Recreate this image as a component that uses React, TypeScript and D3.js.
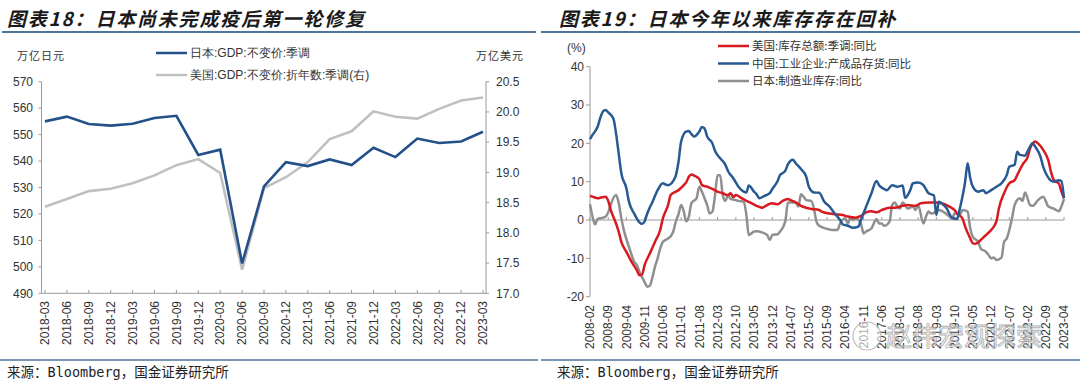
import React from "react";
import * as d3 from "d3";

// ---- 图表18：日本 / 美国 GDP（季度）----
const gdpQuarters = [
  "2018-03", "2018-06", "2018-09", "2018-12", "2019-03", "2019-06", "2019-09",
  "2019-12", "2020-03", "2020-06", "2020-09", "2020-12", "2021-03", "2021-06",
  "2021-09", "2021-12", "2022-03", "2022-06", "2022-09", "2022-12", "2023-03",
];
const japanGdp = [
  555.0, 556.8, 554.0, 553.4, 554.1, 556.3, 557.1, 542.3, 544.3, 501.3, 530.4,
  539.6, 538.1, 540.6, 538.5, 545.0, 541.5, 548.5, 546.8, 547.4, 551.1,
];
const usGdp = [
  18.43, 18.56, 18.69, 18.73, 18.82, 18.95, 19.12, 19.22, 18.99, 17.39, 18.74,
  18.92, 19.17, 19.55, 19.68, 20.01, 19.92, 19.89, 20.05, 20.19, 20.24,
];
const jpyTicks = [490, 500, 510, 520, 530, 540, 550, 560, 570];
const usdTicks = [17.0, 17.5, 18.0, 18.5, 19.0, 19.5, 20.0, 20.5];

// ---- 图表19：库存同比（月度，%）----
const usInventory: [string, number][] = [
  ["2008-02", 6.3], ["2008-03", 6.1], ["2008-05", 5.7], ["2008-06", 5.8], ["2008-08", 6.1],
  ["2008-09", 5.0], ["2008-10", 2.6], ["2008-12", -0.9], ["2009-01", -3.0], ["2009-02", -5.7],
  ["2009-04", -8.3], ["2009-06", -10.9], ["2009-08", -13.1], ["2009-09", -14.4], ["2009-10", -14.2],
  ["2009-11", -11.7], ["2010-01", -8.7], ["2010-03", -5.7], ["2010-05", -2.6], ["2010-06", 0.4],
  ["2010-08", 3.9], ["2010-09", 6.5], ["2010-11", 7.4], ["2010-12", 7.8], ["2011-02", 9.1],
  ["2011-03", 9.8], ["2011-04", 11.3], ["2011-05", 11.9], ["2011-06", 11.6], ["2011-08", 10.7],
  ["2011-09", 9.1], ["2011-11", 8.7], ["2012-01", 8.1], ["2012-03", 7.4], ["2012-05", 7.0],
  ["2012-07", 6.5], ["2012-08", 7.0], ["2012-09", 6.0], ["2012-10", 6.5], ["2012-12", 5.8],
  ["2013-02", 5.0], ["2013-04", 4.4], ["2013-06", 3.7], ["2013-08", 3.2], ["2013-10", 3.9],
  ["2013-12", 4.4], ["2014-02", 4.1], ["2014-04", 5.0], ["2014-06", 5.5], ["2014-07", 5.2],
  ["2014-09", 4.6], ["2014-11", 3.7], ["2015-01", 3.2], ["2015-03", 2.9], ["2015-06", 2.6],
  ["2015-07", 2.2], ["2015-10", 1.7], ["2015-12", 1.5], ["2016-03", 1.3], ["2016-05", 0.9],
  ["2016-08", 0.6], ["2016-10", 1.1], ["2016-12", 2.0], ["2017-02", 2.3], ["2017-04", 2.0],
  ["2017-06", 2.6], ["2017-09", 3.2], ["2017-11", 3.2], ["2018-02", 3.7], ["2018-04", 3.9],
  ["2018-07", 3.7], ["2018-09", 4.4], ["2018-12", 4.6], ["2019-03", 4.6], ["2019-05", 4.4],
  ["2019-08", 3.5], ["2019-10", 2.6], ["2019-11", 1.7], ["2020-01", 0.4], ["2020-02", -1.7],
  ["2020-04", -4.8], ["2020-05", -6.1], ["2020-06", -6.2], ["2020-08", -5.2], ["2020-10", -3.9],
  ["2020-12", -2.6], ["2021-02", -0.3], ["2021-03", 3.0], ["2021-05", 7.0], ["2021-07", 9.6],
  ["2021-09", 10.4], ["2021-10", 11.7], ["2021-12", 14.4], ["2022-02", 16.5], ["2022-03", 18.7],
  ["2022-05", 20.5], ["2022-06", 20.0], ["2022-08", 18.3], ["2022-10", 15.5], ["2022-11", 12.5],
  ["2022-12", 10.5], ["2023-02", 9.5], ["2023-03", 7.5], ["2023-04", 5.7],
];
const cnInventory: [string, number][] = [
  ["2008-02", 21.1], ["2008-03", 22.2], ["2008-05", 24.4], ["2008-06", 26.7], ["2008-07", 28.3],
  ["2008-08", 28.7], ["2008-09", 28.1], ["2008-11", 26.4], ["2008-12", 22.6], ["2009-01", 17.4],
  ["2009-02", 12.2], ["2009-04", 8.3], ["2009-05", 4.8], ["2009-07", 1.7], ["2009-09", -0.6],
  ["2009-10", -1.0], ["2009-11", -0.3], ["2009-12", 1.7], ["2010-02", 4.8], ["2010-04", 7.8],
  ["2010-06", 9.6], ["2010-07", 9.3], ["2010-08", 9.1], ["2010-10", 10.2], ["2010-11", 11.7],
  ["2010-12", 15.2], ["2011-01", 20.5], ["2011-03", 23.1], ["2011-04", 23.2], ["2011-05", 22.4],
  ["2011-06", 21.8], ["2011-08", 23.1], ["2011-09", 24.3], ["2011-10", 23.9], ["2011-11", 21.8],
  ["2012-01", 20.0], ["2012-02", 18.0], ["2012-04", 16.1], ["2012-06", 14.4], ["2012-07", 12.8],
  ["2012-09", 10.9], ["2012-11", 8.7], ["2013-01", 7.4], ["2013-02", 7.2], ["2013-03", 9.0],
  ["2013-05", 7.4], ["2013-06", 6.7], ["2013-07", 5.7], ["2013-09", 6.3], ["2013-11", 7.0],
  ["2013-12", 8.1], ["2014-02", 10.2], ["2014-03", 11.7], ["2014-05", 12.8], ["2014-06", 14.5],
  ["2014-08", 15.7], ["2014-09", 14.8], ["2014-11", 13.3], ["2015-01", 11.3], ["2015-02", 8.7],
  ["2015-04", 7.2], ["2015-06", 7.1], ["2015-08", 4.8], ["2015-10", 3.5], ["2015-12", 1.7],
  ["2016-02", 0.0], ["2016-03", -1.1], ["2016-05", -1.5], ["2016-07", -2.0], ["2016-09", -1.7],
  ["2016-10", 0.0], ["2016-12", 3.5], ["2017-02", 7.0], ["2017-04", 10.2], ["2017-05", 9.1],
  ["2017-07", 8.1], ["2017-08", 7.8], ["2017-10", 9.1], ["2017-12", 8.7], ["2018-02", 9.0],
  ["2018-03", 5.8], ["2018-05", 7.8], ["2018-06", 9.6], ["2018-08", 9.8], ["2018-10", 9.1],
  ["2018-12", 7.0], ["2019-02", 6.4], ["2019-03", 1.3], ["2019-04", 4.8], ["2019-05", 4.4],
  ["2019-07", 3.0], ["2019-09", 0.6], ["2019-11", 0.3], ["2019-12", 3.0], ["2020-02", 10.0],
  ["2020-03", 14.8], ["2020-04", 10.9], ["2020-05", 8.7], ["2020-07", 7.4], ["2020-09", 7.8],
  ["2020-10", 7.0], ["2020-12", 7.8], ["2021-02", 8.7], ["2021-04", 9.6], ["2021-06", 11.7],
  ["2021-07", 13.9], ["2021-09", 14.4], ["2021-10", 17.8], ["2021-11", 17.0], ["2022-01", 16.8],
  ["2022-02", 18.0], ["2022-04", 20.0], ["2022-05", 19.1], ["2022-07", 16.5], ["2022-08", 13.9],
  ["2022-10", 11.0], ["2022-12", 10.0], ["2023-02", 10.4], ["2023-03", 10.2], ["2023-04", 5.7],
];
const jpInventory: [string, number][] = [
  ["2008-02", 4.1], ["2008-03", 0.9], ["2008-04", -1.1], ["2008-05", 0.3], ["2008-07", 0.6],
  ["2008-08", 0.9], ["2008-09", 2.0], ["2008-10", 4.1], ["2008-12", 6.5], ["2009-01", 4.5],
  ["2009-02", 0.5], ["2009-03", -2.5], ["2009-05", -7.0], ["2009-06", -9.1], ["2009-07", -10.9],
  ["2009-08", -11.7], ["2009-09", -13.5], ["2009-11", -16.2], ["2009-12", -17.4], ["2010-01", -17.1],
  ["2010-02", -14.8], ["2010-03", -12.2], ["2010-04", -10.0], ["2010-05", -7.4], ["2010-06", -5.7],
  ["2010-08", -4.8], ["2010-09", -4.2], ["2010-10", -3.0], ["2010-11", -0.3], ["2010-12", 1.5],
  ["2011-01", 3.9], ["2011-02", 2.2], ["2011-03", -0.3], ["2011-04", 0.9], ["2011-05", 4.4],
  ["2011-07", 5.7], ["2011-08", 8.7], ["2011-09", 7.4], ["2011-10", 5.7], ["2011-11", 3.9],
  ["2011-12", 1.7], ["2012-01", 2.2], ["2012-02", 6.5], ["2012-03", 11.7], ["2012-04", 11.7],
  ["2012-05", 6.5], ["2012-06", 5.0], ["2012-07", 6.5], ["2012-08", 5.5], ["2012-10", 5.2],
  ["2012-11", 5.0], ["2013-01", 4.8], ["2013-02", 1.3], ["2013-03", -3.9], ["2013-05", -3.0],
  ["2013-06", -2.9], ["2013-08", -3.2], ["2013-10", -3.9], ["2013-11", -5.2], ["2013-12", -3.9],
  ["2014-02", -3.7], ["2014-03", -3.0], ["2014-05", -0.4], ["2014-06", 4.5], ["2014-07", 4.6],
  ["2014-09", 4.6], ["2014-10", 3.5], ["2014-11", 6.7], ["2014-12", 6.1], ["2015-01", 5.2],
  ["2015-03", 5.0], ["2015-04", 3.0], ["2015-05", -0.4], ["2015-06", -1.5], ["2015-09", -2.3],
  ["2015-11", -2.6], ["2016-01", -2.6], ["2016-02", -0.9], ["2016-04", 0.4], ["2016-05", -0.9],
  ["2016-06", 0.6], ["2016-07", 0.0], ["2016-08", 0.4], ["2016-10", -0.9], ["2016-11", -3.5],
  ["2016-12", -3.0], ["2017-02", -2.2], ["2017-03", -0.9], ["2017-04", 0.3], ["2017-05", -0.9],
  ["2017-06", -0.9], ["2017-07", -1.5], ["2017-09", -0.4], ["2017-10", 3.9], ["2017-11", 4.6],
  ["2017-12", 3.5], ["2018-01", 3.0], ["2018-02", 4.6], ["2018-03", 3.9], ["2018-04", 3.0],
  ["2018-06", 3.5], ["2018-07", 2.6], ["2018-08", 3.9], ["2018-10", -0.9], ["2018-11", 0.9],
  ["2018-12", 2.2], ["2019-01", 1.7], ["2019-03", 2.2], ["2019-04", 2.6], ["2019-06", 2.0],
  ["2019-08", 0.9], ["2019-09", 0.4], ["2019-10", 1.7], ["2019-12", 1.3], ["2020-01", 2.6],
  ["2020-03", 2.2], ["2020-04", -2.2], ["2020-05", -4.4], ["2020-07", -5.7], ["2020-08", -7.4],
  ["2020-10", -8.3], ["2020-11", -9.1], ["2020-12", -10.0], ["2021-01", -9.8], ["2021-02", -10.4],
  ["2021-04", -9.8], ["2021-05", -5.7], ["2021-06", -4.8], ["2021-08", 0.4], ["2021-09", 3.9],
  ["2021-11", 5.7], ["2021-12", 5.0], ["2022-01", 7.2], ["2022-03", 3.9], ["2022-04", 3.7],
  ["2022-06", 5.2], ["2022-08", 6.1], ["2022-10", 3.5], ["2022-12", 3.0], ["2023-02", 2.3],
  ["2023-03", 3.5], ["2023-04", 5.5],
];
const invMonthLabels = [
  "2008-02", "2008-09", "2009-04", "2009-11", "2010-06", "2011-01", "2011-08",
  "2012-03", "2012-10", "2013-05", "2013-12", "2014-07", "2015-02", "2015-09",
  "2016-04", "2016-11", "2017-06", "2018-01", "2018-08", "2019-03", "2019-10",
  "2020-05", "2020-12", "2021-07", "2022-02", "2022-09", "2023-04",
];
const pctTicks = [-20, -10, 0, 10, 20, 30, 40];

const parseMonth = d3.timeParse("%Y-%m");
const numFont = "'Liberation Sans', Arial, sans-serif";
const cjkFont = "'Noto Sans CJK SC', sans-serif";
const ruleColor = "#4d7499";
const axisColor = "#9a9a9a";

const GdpChart = () => {
  const x = d3.scalePoint<string>().domain(gdpQuarters).range([45, 483]);
  const yL = d3.scaleLinear().domain([490, 570]).range([293.3, 81.7]);
  const yR = d3.scaleLinear().domain([17, 20.5]).range([293.3, 81.7]);
  const lineJp = d3
    .line<number>()
    .x((_, i) => x(gdpQuarters[i])!)
    .y((d) => yL(d));
  const lineUs = d3
    .line<number>()
    .x((_, i) => x(gdpQuarters[i])!)
    .y((d) => yR(d));

  return (
    <g>
      <text x={7} y={26} fontFamily={cjkFont} fontSize={19} fontWeight="bold"
        fontStyle="italic" letterSpacing={1.8} fill="#1a1a1a">
        图表18：日本尚未完成疫后第一轮修复
      </text>
      <line x1={2} x2={536} y1={32} y2={32} stroke={ruleColor} strokeWidth={2} />

      <text x={17} y={60} fontFamily={cjkFont} fontSize={11} fill="#333" letterSpacing={1}>万亿日元</text>
      <text x={476} y={60} fontFamily={cjkFont} fontSize={11} fill="#333" letterSpacing={1}>万亿美元</text>

      {/* legend */}
      <line x1={156} x2={187} y1={53} y2={53} stroke="#24508a" strokeWidth={2.5} />
      <text x={190} y={57} fontFamily={numFont} fontSize={12} fill="#333">日本:GDP:不变价:季调</text>
      <line x1={156} x2={187} y1={75} y2={75} stroke="#c0c0c0" strokeWidth={2.5} />
      <text x={190} y={79} fontFamily={numFont} fontSize={12} fill="#333">美国:GDP:不变价:折年数:季调(右)</text>

      {/* axes */}
      <line x1={41.5} x2={41.5} y1={81.7} y2={293.3} stroke={axisColor} />
      <line x1={486} x2={486} y1={81.7} y2={293.3} stroke={axisColor} />
      <line x1={41.5} x2={486} y1={293.3} y2={293.3} stroke={axisColor} />
      {jpyTicks.map((t) => (
        <g key={t}>
          <line x1={38.5} x2={41.5} y1={yL(t)} y2={yL(t)} stroke={axisColor} />
          <text x={33} y={yL(t)} dy="0.35em" textAnchor="end" fontFamily={numFont}
            fontSize={12} fill="#333">{t}</text>
        </g>
      ))}
      {usdTicks.map((t) => (
        <g key={t}>
          <line x1={486} x2={489} y1={yR(t)} y2={yR(t)} stroke={axisColor} />
          <text x={496} y={yR(t)} dy="0.35em" fontFamily={numFont} fontSize={12}
            fill="#333">{t.toFixed(1)}</text>
        </g>
      ))}
      {gdpQuarters.map((q) => (
        <g key={q}>
          <line x1={x(q)} x2={x(q)} y1={293.3} y2={290} stroke={axisColor} />
          <text transform={`translate(${x(q)},${301}) rotate(-90)`} dy="0.35em"
            textAnchor="end" fontFamily={numFont} fontSize={12} fill="#333">{q}</text>
        </g>
      ))}

      <path d={lineUs(usGdp)!} fill="none" stroke="#c0c0c0" strokeWidth={2.6} />
      <path d={lineJp(japanGdp)!} fill="none" stroke="#24508a" strokeWidth={2.6} />

      <line x1={0} x2={538} y1={360} y2={360} stroke={ruleColor} strokeWidth={1.5} />
      <text x={7} y={377} fontFamily={`'DejaVu Sans Mono', ${cjkFont}`} fontSize={13.5} fill="#222">
        来源：Bloomberg，国金证券研究所
      </text>
    </g>
  );
};

const InventoryChart = () => {
  const x = d3
    .scaleTime()
    .domain([parseMonth("2008-02")!, parseMonth("2023-04")!])
    .range([590, 1064]);
  const y = d3.scaleLinear().domain([-20, 40]).range([296.7, 66.7]);
  const line = d3
    .line<[string, number]>()
    .x((d) => x(parseMonth(d[0])!))
    .y((d) => y(d[1]))
    .curve(d3.curveMonotoneX);

  const series = [
    { name: "美国:库存总额:季调:同比", data: usInventory, color: "#d71920" },
    { name: "中国:工业企业:产成品存货:同比", data: cnInventory, color: "#275a92" },
    { name: "日本:制造业库存:同比", data: jpInventory, color: "#8f8f8f" },
  ];
  const drawOrder = [series[2], series[0], series[1]];

  return (
    <g>
      <text x={559} y={26} fontFamily={cjkFont} fontSize={19} fontWeight="bold"
        fontStyle="italic" letterSpacing={1.8} fill="#1a1a1a">
        图表19：日本今年以来库存存在回补
      </text>
      <line x1={541} x2={1080} y1={32} y2={32} stroke={ruleColor} strokeWidth={2} />

      <text x={567} y={52} fontFamily={numFont} fontSize={12} fill="#333">(%)</text>

      {series.map((s, i) => (
        <g key={s.name}>
          <line x1={718} x2={749} y1={46 + i * 17.5} y2={46 + i * 17.5} stroke={s.color} strokeWidth={2.5} />
          <text x={752} y={46 + i * 17.5} dy="0.35em" fontFamily={cjkFont} fontSize={11.5}
            fill="#333">{s.name}</text>
        </g>
      ))}

      <line x1={590} x2={590} y1={66.7} y2={296.7} stroke={axisColor} />
      {pctTicks.map((t) => (
        <g key={t}>
          <line x1={586} x2={590} y1={y(t)} y2={y(t)} stroke={axisColor} />
          <text x={584} y={y(t)} dy="0.35em" textAnchor="end" fontFamily={numFont}
            fontSize={12} fill="#333">{t}</text>
        </g>
      ))}
      <line x1={590} x2={1064} y1={y(0)} y2={y(0)} stroke={axisColor} />
      {invMonthLabels.map((m) => {
        const px = x(parseMonth(m)!);
        return (
          <g key={m}>
            <line x1={px} x2={px} y1={y(0)} y2={y(0) - 3} stroke={axisColor} />
            <text transform={`translate(${px},${305}) rotate(-90)`} dy="0.35em"
              textAnchor="end" fontFamily={numFont} fontSize={12} fill="#333">{m}</text>
          </g>
        );
      })}

      {drawOrder.map((s) => (
        <path key={s.name} d={line(s.data)!} fill="none" stroke={s.color} strokeWidth={2.5}
          strokeLinejoin="round" />
      ))}

      {/* watermark */}
      <g opacity={0.85}>
        <circle cx={867} cy={336} r={14} fill="rgba(255,255,255,0.7)" stroke="#b5b5b5" strokeWidth={1.2} />
        <text x={886} y={346} fontFamily={cjkFont} fontSize={26} fill="rgba(255,255,255,0.75)"
          stroke="#a8a8a8" strokeWidth={0.9}>赵伟宏观探索</text>
      </g>

      <line x1={541} x2={1080} y1={360} y2={360} stroke={ruleColor} strokeWidth={1.5} />
      <text x={557} y={377} fontFamily={`'DejaVu Sans Mono', ${cjkFont}`} fontSize={13.5} fill="#222">
        来源：Bloomberg，国金证券研究所
      </text>
    </g>
  );
};

const App = () => {
  return (
    <>
      <style>{"body{margin:0;background:#fff}"}</style>
      <svg width={1080} height={389} viewBox="0 0 1080 389" style={{ display: "block" }}>
        <rect width={1080} height={389} fill="#fff" />
        <GdpChart />
        <InventoryChart />
      </svg>
    </>
  );
};

export default App;
